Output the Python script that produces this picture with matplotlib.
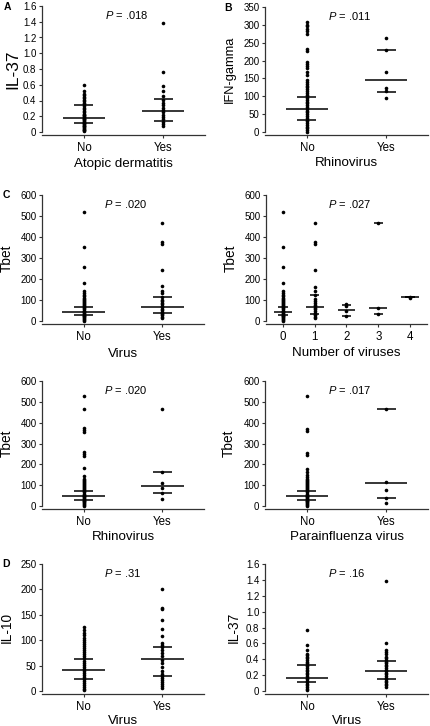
import matplotlib
matplotlib.use('Agg')
import matplotlib.pyplot as plt
from matplotlib.ticker import FuncFormatter
import numpy as np

plt.rcParams['font.family'] = ['Liberation Sans', 'DejaVu Sans']
plt.rcParams['mathtext.fontset'] = 'custom'
plt.rcParams['mathtext.it'] = 'Liberation Sans:italic'
plt.rcParams['mathtext.rm'] = 'Liberation Sans'

'''Data read off the reference (values per group, then median / quartiles)'''
# A: IL-37 by atopic dermatitis
a_groups = ['No', 'Yes']
a_no = [0.01, 0.02, 0.03, 0.04, 0.05, 0.06, 0.07, 0.08, 0.09, 0.10, 0.11, 0.12,
        0.13, 0.14, 0.15, 0.16, 0.17, 0.18, 0.19, 0.20, 0.21, 0.22, 0.23, 0.25,
        0.27, 0.29, 0.31, 0.33, 0.35, 0.37, 0.39, 0.41, 0.43, 0.45, 0.47, 0.48,
        0.52, 0.60]
a_yes = [0.08, 0.10, 0.13, 0.16, 0.19, 0.22, 0.26, 0.28, 0.31, 0.34, 0.37, 0.41,
         0.46, 0.52, 0.58, 0.76, 1.39]
a_median = [0.178, 0.262]
a_q1 = [0.118, 0.135]
a_q3 = [0.343, 0.415]

# B: IFN-gamma by rhinovirus
b_groups = ['No', 'Yes']
b_no = [1, 5, 10, 15, 20, 25, 30, 35, 40, 45, 50, 55, 60, 65, 70, 75, 80, 85, 90,
        95, 100, 105, 110, 115, 120, 125, 130, 135, 140, 146, 160, 169, 179, 185,
        191, 196, 228, 232, 274, 282, 288, 296, 300, 307]
b_yes = [96, 116, 123, 169, 230, 262]
b_median = [65, 146]
b_q1 = [34, 113]
b_q3 = [97, 230]

# C: Tbet by virus
c_groups = ['No', 'Yes']
c_no = [2, 6, 10, 14, 18, 22, 26, 30, 34, 38, 42, 46, 50, 55, 60, 65, 70, 75, 80,
        85, 90, 95, 100, 105, 110, 118, 125, 133, 141, 181, 257, 352, 520]
c_yes = [13, 20, 27, 33, 37, 45, 52, 58, 65, 72, 80, 87, 94, 100, 114, 133, 144,
         165, 241, 367, 376, 467]
c_median = [43, 65]
c_q1 = [29, 37]
c_q3 = [68, 113]

# C: Tbet by number of viruses
n_groups = ['0', '1', '2', '3', '4']
n_0 = c_no
n_1 = [13, 20, 27, 33, 40, 48, 55, 62, 70, 78, 85, 94, 105, 125, 144, 162, 241,
       367, 376, 467]
n_2 = [25, 49, 73, 81]
n_3 = [33, 62, 467]
n_4 = [110, 114]
n_median = [43, 65, 54, 62, 112]
n_q1 = [29, 33, 25, 33, 112]
n_q3 = [68, 125, 75, 467, 112]

# C: Tbet by rhinovirus
r_groups = ['No', 'Yes']
r_no = [2, 6, 10, 14, 18, 22, 26, 30, 34, 38, 42, 46, 50, 55, 60, 65, 70, 75, 80,
        85, 90, 95, 100, 105, 110, 115, 120, 126, 132, 144, 182, 239, 252, 260,
        354, 364, 373, 467, 526]
r_yes = [35, 64, 88, 112, 164, 467]
r_median = [46, 97]
r_q1 = [29, 64]
r_q3 = [72, 164]

# C: Tbet by parainfluenza virus
p_groups = ['No', 'Yes']
p_no = [2, 6, 10, 14, 18, 22, 26, 30, 34, 38, 42, 46, 50, 55, 60, 65, 70, 75, 80,
        85, 90, 95, 100, 105, 110, 115, 120, 126, 132, 140, 150, 165, 180, 245,
        255, 360, 370, 527]
p_yes = [16, 37, 77, 113, 467]
p_median = [46, 110]
p_q1 = [29, 37]
p_q3 = [72, 467]

# D: IL-10 by virus
d10_groups = ['No', 'Yes']
d10_no = [1, 4, 8, 12, 16, 20, 24, 28, 32, 36, 40, 44, 48, 52, 56, 60, 64, 68, 72,
          76, 80, 84, 88, 92, 96, 100, 105, 110, 115, 120, 126]
d10_yes = [5, 9, 13, 17, 21, 25, 29, 33, 40, 48, 55, 62, 68, 74, 80, 86, 90, 95,
           109, 122, 139, 161, 164, 201]
d10_median = [41, 63]
d10_q1 = [23, 29]
d10_q3 = [63, 86]

# D: IL-37 by virus
d37_groups = ['No', 'Yes']
d37_no = [0.01, 0.03, 0.05, 0.07, 0.09, 0.11, 0.13, 0.15, 0.17, 0.19, 0.21, 0.23,
          0.25, 0.27, 0.29, 0.31, 0.33, 0.35, 0.37, 0.39, 0.41, 0.43, 0.45, 0.47,
          0.52, 0.58, 0.77]
d37_yes = [0.05, 0.07, 0.09, 0.11, 0.13, 0.15, 0.17, 0.19, 0.21, 0.23, 0.25, 0.27,
           0.29, 0.31, 0.33, 0.35, 0.37, 0.39, 0.41, 0.43, 0.46, 0.49, 0.52, 0.60,
           1.39]
d37_median = [0.164, 0.248]
d37_q1 = [0.114, 0.147]
d37_q3 = [0.324, 0.379]

W, H = 431, 726
fig = plt.figure(figsize=(W / 100, H / 100), dpi=100)


def make_axes(left, right, top, zero):
    # pixel box -> figure fraction
    return fig.add_axes([left / W, (H - zero) / H, (right - left) / W, (zero - top) / H])


def dot_panel(ax, labels, groups, med, q1, q3, ytop, ystep, ylabel, xlabel, ptext,
              decimals=False, ylab_x=-0.22, ylab_size=9.8, xlab_y=-0.25):
    x = np.arange(len(labels))
    n = len(labels)
    mhw = 0.27 if n == 2 else 0.28
    qhw = 0.12 if n == 2 else 0.15
    for i, vals in enumerate(groups):
        ax.plot([x[i]] * len(vals), vals, 'o', color='black', ms=2.6,
                mec='none', clip_on=False, zorder=3)
    ax.hlines(med, x - mhw, x + mhw, color='black', lw=1.1, zorder=4)
    ax.hlines(q1, x - qhw, x + qhw, color='black', lw=1.1, zorder=4)
    ax.hlines(q3, x - qhw, x + qhw, color='black', lw=1.1, zorder=4)

    ax.set_xlim(-0.53, n - 1 + 0.53)
    ax.set_ylim(0, ytop)
    ax.set_yticks(np.arange(0, ytop + ystep / 2, ystep))
    if decimals:
        ax.yaxis.set_major_formatter(FuncFormatter(lambda v, p: '0' if v == 0 else f'{v:.1f}'))
    ax.set_xticks(x)
    ax.set_xticklabels(labels)
    ax.tick_params(axis='y', labelsize=7, length=2.5, width=0.8, pad=1.5, color='#333333')
    ax.tick_params(axis='x', labelsize=8.3, length=2, width=0.8, pad=3, color='#333333')

    for s in ['top', 'right']:
        ax.spines[s].set_visible(False)
    for s in ['left', 'bottom']:
        ax.spines[s].set_linewidth(0.9)
        ax.spines[s].set_color('#333333')
    ax.spines['bottom'].set_position(('outward', 2.5))
    ax.patch.set_alpha(0)

    ax.set_ylabel(ylabel, fontsize=ylab_size)
    ax.yaxis.label.set_va('center')
    ax.yaxis.set_label_coords(ylab_x, 0.5)
    ax.set_xlabel(xlabel, fontsize=9.6)
    ax.xaxis.label.set_va('center')
    ax.xaxis.set_label_coords(0.5, xlab_y)

    ax.text(0.385, 0.93, r'$\mathit{P}$' + ' = ' + ptext, transform=ax.transAxes,
            ha='left', va='center', fontsize=8)


# Row 1
ax = make_axes(42, 205, 6, 132)
dot_panel(ax, a_groups, [a_no, a_yes], a_median, a_q1, a_q3, 1.6, 0.2,
          'IL-37', 'Atopic dermatitis', '.018', decimals=True, ylab_x=-0.18,
          ylab_size=12.5)
ax = make_axes(265, 428, 7, 132)
dot_panel(ax, b_groups, [b_no, b_yes], b_median, b_q1, b_q3, 350, 50,
          'IFN-gamma', 'Rhinovirus', '.011', ylab_x=-0.215, ylab_size=9.3)

# Row 2
ax = make_axes(42, 204, 195, 321)
dot_panel(ax, c_groups, [c_no, c_yes], c_median, c_q1, c_q3, 600, 100,
          'Tbet', 'Virus', '.020', ylab_x=-0.215, xlab_y=-0.26)
ax = make_axes(266, 427, 195, 321)
dot_panel(ax, n_groups, [n_0, n_1, n_2, n_3, n_4], n_median, n_q1, n_q3, 600, 100,
          'Tbet', 'Number of viruses', '.027', ylab_x=-0.22)

# Row 3
ax = make_axes(42, 204, 381, 506)
dot_panel(ax, r_groups, [r_no, r_yes], r_median, r_q1, r_q3, 600, 100,
          'Tbet', 'Rhinovirus', '.020', ylab_x=-0.215)
ax = make_axes(265, 428, 381, 506)
dot_panel(ax, p_groups, [p_no, p_yes], p_median, p_q1, p_q3, 600, 100,
          'Tbet', 'Parainfluenza virus', '.017', ylab_x=-0.22)

# Row 4
ax = make_axes(42, 204, 564, 691)
dot_panel(ax, d10_groups, [d10_no, d10_yes], d10_median, d10_q1, d10_q3, 250, 50,
          'IL-10', 'Virus', '.31', ylab_x=-0.215, xlab_y=-0.235)
ax = make_axes(265, 428, 564, 691)
dot_panel(ax, d37_groups, [d37_no, d37_yes], d37_median, d37_q1, d37_q3, 1.6, 0.2,
          'IL-37', 'Virus', '.16', decimals=True, ylab_x=-0.19, xlab_y=-0.235)

# Panel letters
for letter, px, py in [('A', 7, 7), ('B', 228, 8), ('C', 6, 195), ('D', 6, 564)]:
    fig.text(px / W, 1 - py / H, letter, fontsize=7.5, fontweight='bold',
             ha='center', va='center')

fig.savefig('out.png', dpi=100)
